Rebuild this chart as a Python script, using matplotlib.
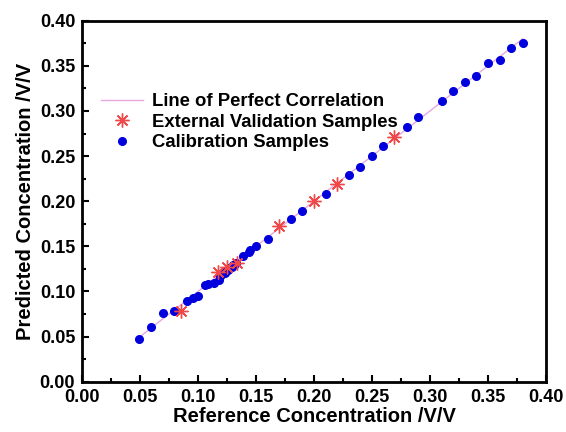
import matplotlib.pyplot as plt
from matplotlib.ticker import MultipleLocator

plt.rcParams['font.family'] = ['Liberation Sans', 'DejaVu Sans']
plt.rcParams['font.weight'] = 'bold'

# Calibration samples (reference, predicted)
cal_ref = [0.0495, 0.0596, 0.0697, 0.0795, 0.0904, 0.0953, 0.0999, 0.1057, 0.109,
           0.1135, 0.118, 0.119, 0.121, 0.123, 0.124, 0.126, 0.127, 0.129, 0.130,
           0.132, 0.133, 0.139, 0.1437, 0.145, 0.150, 0.160, 0.1806, 0.190, 0.210,
           0.230, 0.240, 0.250, 0.2597, 0.280, 0.290, 0.310, 0.320, 0.330, 0.340,
           0.350, 0.360, 0.370, 0.380]
cal_pred = [0.0473, 0.061, 0.0765, 0.078, 0.0894, 0.0924, 0.095, 0.107, 0.108,
            0.1097, 0.1127, 0.117, 0.119, 0.121, 0.123, 0.124, 0.126, 0.127, 0.129,
            0.130, 0.132, 0.1396, 0.144, 0.146, 0.150, 0.158, 0.180, 0.1895, 0.208,
            0.229, 0.238, 0.2504, 0.261, 0.2826, 0.2936, 0.311, 0.3225, 0.3317, 0.3387,
            0.3535, 0.3564, 0.3694, 0.375]

# External validation samples
val_ref = [0.085, 0.117, 0.125, 0.134, 0.170, 0.200, 0.220, 0.269]
val_pred = [0.078, 0.122, 0.127, 0.132, 0.172, 0.200, 0.219, 0.271]

# Line of perfect correlation
line_x = [0.048, 0.38]

fig = plt.figure(figsize=(5.66, 4.32), dpi=100)
ax = fig.add_axes([0.145, 0.1164, 0.8195, 0.8357])

ax.plot(line_x, line_x, color='#e8a8e0', lw=1.0, label='Line of Perfect Correlation', zorder=1)
ax.plot(val_ref, val_pred, ls='none', marker=(8, 2, 0), ms=10, color='#f04848', mew=1.0,
        label='External Validation Samples', zorder=3)
ax.plot(cal_ref, cal_pred, ls='none', marker='o', ms=5.5, color='#0000dd',
        label='Calibration Samples', zorder=2)

ax.set_xlim(0, 0.40)
ax.set_ylim(0, 0.40)
ax.xaxis.set_major_locator(MultipleLocator(0.05))
ax.yaxis.set_major_locator(MultipleLocator(0.05))
ax.xaxis.set_minor_locator(MultipleLocator(0.025))
ax.yaxis.set_minor_locator(MultipleLocator(0.025))
ax.xaxis.set_major_formatter(lambda v, p: f'{v:.2f}')
ax.yaxis.set_major_formatter(lambda v, p: f'{v:.2f}')
ax.tick_params(which='both', direction='in', width=1.5, labelsize=13, pad=5)
ax.tick_params(which='major', length=5)
ax.tick_params(which='minor', length=3)
for s in ax.spines.values():
    s.set_linewidth(2)

ax.set_xlabel('Reference Concentration /V/V', fontsize=14.5, fontweight='bold', labelpad=1)
ax.set_ylabel('Predicted Concentration /V/V', fontsize=14.5, fontweight='bold', labelpad=3)

ax.legend(loc='upper left', bbox_to_anchor=(0.02, 0.825), frameon=False,
          labelspacing=0.2, handlelength=2.3, handletextpad=0.5, borderpad=0,
          prop={'weight': 'bold', 'size': 13.3})

fig.savefig('out.png', dpi=100)
